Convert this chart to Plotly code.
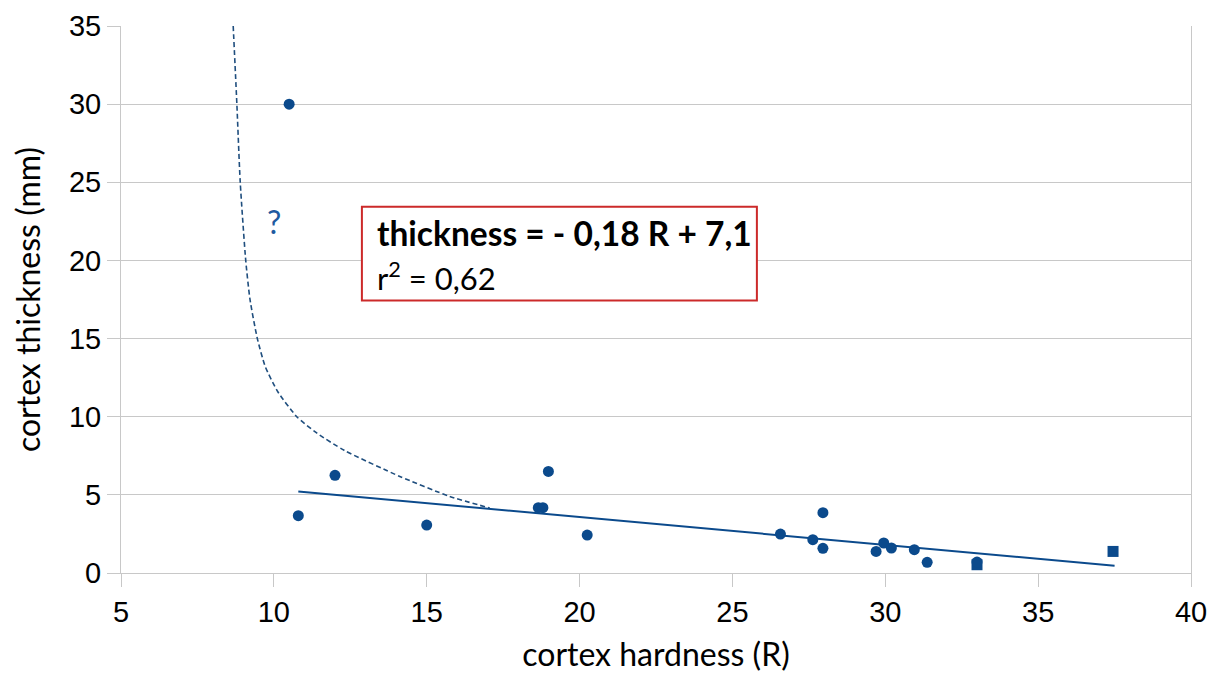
import plotly.graph_objects as go

# --- data ---
hardness_circles = [10.5, 10.8, 12.0, 15.0, 18.65, 18.8, 18.98, 20.25, 26.57, 27.63,
                    27.96, 27.96, 29.7, 29.95, 30.2, 30.95, 31.37, 33.0]
thickness_circles = [30.0, 3.67, 6.25, 3.07, 4.18, 4.18, 6.5, 2.43, 2.49, 2.13,
                     3.86, 1.58, 1.38, 1.92, 1.6, 1.49, 0.68, 0.7]

hardness_squares = [33.0, 37.45]
thickness_squares = [0.53, 1.38]

# linear regression (as displayed)
fit_slope = -0.178
fit_intercept = 7.14
fit_x_range = [10.8, 37.5]

# hand-drawn dashed curve
curve_x = [8.67, 8.79, 8.9, 9.08, 9.22, 9.46, 9.72, 10.13, 10.75, 11.4, 12.3, 14.12, 15.75, 17.06]
curve_y = [35.0, 30.0, 25.0, 20.0, 17.5, 15.0, 13.2, 11.6, 10.0, 8.96, 7.85, 6.18, 4.9, 4.16]

x_ticks = [5, 10, 15, 20, 25, 30, 35, 40]
y_ticks = [0, 5, 10, 15, 20, 25, 30, 35]

BLUE = "#0b4a8c"
GRID = "#c8c8c8"
TEXT_FONT = "Lato"
TICK_FONT = "Liberation Sans"

fit_y = [fit_slope * x + fit_intercept for x in fit_x_range]

fig = go.Figure()
fig.add_trace(go.Scatter(x=curve_x, y=curve_y, mode="lines",
                         line=dict(color="#1f4e7e", width=1.6, dash="5px,3px",
                                   shape="spline", smoothing=0.6),
                         hoverinfo="skip", showlegend=False))
fig.add_trace(go.Scatter(x=fit_x_range, y=fit_y, mode="lines",
                         line=dict(color=BLUE, width=2), showlegend=False))
fig.add_trace(go.Scatter(x=hardness_squares, y=thickness_squares, mode="markers",
                         marker=dict(symbol="square", size=11, color=BLUE), showlegend=False))
fig.add_trace(go.Scatter(x=hardness_circles, y=thickness_circles, mode="markers",
                         marker=dict(symbol="circle", size=11, color=BLUE), showlegend=False))

# equation box
fig.add_shape(type="rect", xref="x", yref="y", x0=12.88, x1=25.8, y0=17.43, y1=23.43,
              line=dict(color="#cc2a2a", width=2), fillcolor="white", layer="above")
fig.add_annotation(x=13.3, y=21.75, xref="x", yref="y", xanchor="left", yanchor="middle",
                   text="<b>thickness = - 0,18 R + 7,1</b>", showarrow=False,
                   font=dict(family=TEXT_FONT, size=33.5, color="black"))
fig.add_annotation(x=13.3, y=19.0, xref="x", yref="y", xanchor="left", yanchor="middle",
                   text="r<sup>2</sup> = 0,62", showarrow=False,
                   font=dict(family=TEXT_FONT, size=31, color="black"))
fig.add_annotation(x=10.0, y=22.5, xref="x", yref="y", text="?", showarrow=False,
                   font=dict(family=TEXT_FONT, size=32, color="#1f5aa0"))

# page body has an 8px default margin, so the figure is sized to fit within the window
fig.update_layout(
    width=1209, height=670,
    margin=dict(l=113, r=26, t=18, b=105),
    plot_bgcolor="white", paper_bgcolor="white",
    showlegend=False,
)
fig.update_xaxes(
    range=[5, 40], tickvals=x_ticks, showgrid=False, zeroline=False, automargin=False,
    showline=True, linecolor=GRID, linewidth=1,
    ticks="outside", ticklen=13, tickcolor=GRID,
    tickfont=dict(family=TICK_FONT, size=29, color="black"),
    title=dict(text="cortex hardness (R)", font=dict(family=TEXT_FONT, size=32, color="black"),
               standoff=16),
)
fig.update_yaxes(
    range=[0, 35], tickvals=y_ticks, showgrid=True, gridcolor=GRID, gridwidth=1,
    zeroline=False, showline=True, mirror=True, linecolor=GRID, linewidth=1, automargin=False,
    ticks="outside", ticklen=13, tickcolor=GRID,
    tickfont=dict(family=TICK_FONT, size=29, color="black"),
    title=dict(text="cortex thickness (mm)", font=dict(family=TEXT_FONT, size=32, color="black"),
               standoff=18),
)

fig.write_html("out.html")
